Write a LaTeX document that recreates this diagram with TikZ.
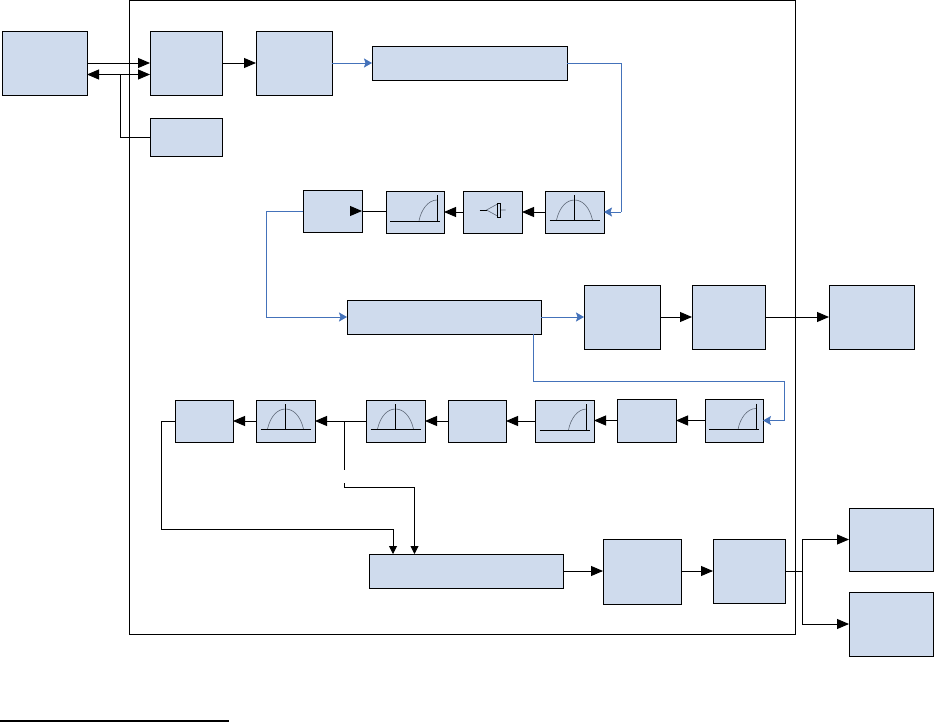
\documentclass[tikz,border=0pt]{standalone}
\usetikzlibrary{arrows.meta}
\definecolor{boxfill}{RGB}{207,219,237}
\definecolor{bluewire}{RGB}{68,114,186}
\definecolor{iconarc}{RGB}{95,105,120}
\tikzset{
 blk/.style={draw=black,fill=boxfill,line width=0.9pt,inner sep=0pt,outer sep=0pt},
 wire/.style={draw=black,line width=0.9pt},
 arr/.style={wire,-{Triangle[length=12pt,width=10pt]}},
 sarr/.style={wire,-{Triangle[length=8pt,width=8pt]}},
 barr/.style={line width=0.9pt,draw=bluewire,-{Stealth[length=8pt,width=9pt,inset=1.5pt]}},
 bwire/.style={line width=0.9pt,draw=bluewire},
 ibase/.style={draw=black,line width=0.8pt},
 iarc/.style={draw=iconarc,line width=0.6pt},
 pics/bell/.style={code={
   \draw[iarc] (-18,8) .. controls (-15,-5) and (-8,-12) .. (0,-12) .. controls (8,-12) and (15,-5) .. (18,8);
   \draw[ibase] (-25,8) -- (25,8) (0,-17) -- (0,8);}},
 pics/quart/.style={code={
   \draw[iarc] (4,9) .. controls (6,-2) and (13,-12) .. (22,-12);
   \draw[ibase] (-25,9) -- (25,9) (22,-17) -- (22,9);}},
 pics/amp/.style={code={
   \draw[iarc] (-6,-2) -- (5,-8) -- (5,4) -- cycle (8,-2) -- (13,-2);
   \draw[ibase] (-13,-2) -- (-6,-2);
   \draw[ibase,fill=boxfill] (4.5,-9) rectangle (7.5,5);}},
}
\newcommand{\bx}[5]{\node[blk,minimum width=\the\numexpr#4-#2\relax pt,minimum height=\the\numexpr#5-#3\relax pt] (#1) at ({(#2+#4)/2},{(#3+#5)/2}) {};}
\begin{document}
\begin{tikzpicture}[x=1pt,y=-1pt]
\useasboundingbox (0,0) rectangle (934,726);
\draw[wire] (129.5,0.5) rectangle (795.5,634.5);
\bx{src}{2}{31}{87}{95}
\bx{a}{150}{31}{222}{95}
\bx{b}{256}{31}{332}{95}
\bx{c}{372}{46}{567}{80}
\bx{d}{150}{118}{222}{156}
\bx{e}{303}{190}{362}{232}
\bx{f}{386}{191}{444}{233}
\bx{g}{463}{191}{522}{233}
\bx{h}{545}{191}{604}{233}
\bx{i}{347}{300}{541}{334}
\bx{j}{584}{285}{660}{349}
\bx{k}{692}{285}{765}{349}
\bx{l}{829}{285}{914}{349}
\bx{m}{175}{400}{233}{442}
\bx{n}{256}{400}{315}{442}
\bx{o}{366}{400}{425}{442}
\bx{p}{448}{400}{506}{442}
\bx{q}{535}{400}{594}{442}
\bx{r}{617}{399}{676}{442}
\bx{s}{705}{399}{763}{442}
\bx{t}{369}{554}{563}{588}
\bx{u}{603}{539}{681}{604}
\bx{v}{713}{539}{785}{603}
\bx{w}{849}{508}{933}{571}
\bx{x}{849}{592}{933}{656}
\pic at (h) {bell};
\pic at (g) {amp};
\pic at (f) {quart};
\pic at (s) {quart};
\pic at (q) {quart};
\pic at (o) {bell};
\pic at (n) {bell};
% named free points
\coordinate (srcL) at (87,74.5);
\coordinate (aL) at (150,74.5);
\coordinate (tapA) at (120,74.5);
\coordinate (cR) at (621,63);
\coordinate (hR) at (621,212);
\coordinate (eL) at (266,211);
\coordinate (iL) at (266,317);
\coordinate (iB) at (533.5,334);
\coordinate (iB2) at (533.5,381);
\coordinate (sR1) at (784,381);
\coordinate (sR2) at (784,420.5);
\coordinate (mL) at (161,421);
\coordinate (mB) at (161,529);
\coordinate (tT1) at (393,529);
\coordinate (tT1e) at (393,554);
\coordinate (tap1) at (344,421);
\coordinate (tap1e) at (344,470);
\coordinate (tap2) at (344,483);
\coordinate (tap3) at (344,487);
\coordinate (tT2) at (414.5,487);
\coordinate (tT2e) at (414.5,554);
\coordinate (vT) at (802,571);
\coordinate (vU) at (802,539.5);
\coordinate (vD) at (802,624);
\draw[arr] (src.east) -- (a.west);
\draw[wire,{Triangle[length=12pt,width=10pt]}-{Triangle[length=12pt,width=10pt]}] (srcL) -- (aL);
\draw[wire] (d.west) -- (tapA |- d.west) -- (tapA);
\draw[arr] (a.east) -- (b.west);
\draw[barr] (b.east) -- (c.west);
\draw[bwire] (c.east |- cR) -- (cR) -- (hR);
\draw[barr] (hR) -- (h.east |- hR);
\draw[arr] (h.west) -- (g.east);
\draw[arr] (g.west) -- (f.east);
\draw[wire] (f.west |- e.east) -- (e.east);
\draw[arr] ([xshift=-12pt]e.east) -- (e.east);
\draw[bwire] (e.west |- eL) -- (eL) -- (iL);
\draw[barr] (iL) -- (i.west);
\draw[barr] (i.east) -- (j.west);
\draw[arr] (j.east) -- (k.west);
\draw[arr] (k.east) -- (l.west);
\draw[bwire] (iB) -- (iB2) -- (sR1) -- (sR2);
\draw[barr] (sR2) -- (s.east |- sR2);
\draw[arr] (s.west |- 0,420.5) -- (r.east |- 0,420.5);
\draw[arr] (r.west |- 0,420.5) -- (q.east |- 0,420.5);
\draw[arr] (q.west |- 0,421) -- (p.east |- 0,421);
\draw[arr] (p.west |- 0,421) -- (o.east |- 0,421);
\draw[arr] (o.west |- 0,421) -- (n.east |- 0,421);
\draw[arr] (n.west |- 0,421) -- (m.east |- 0,421);
\draw[wire] (m.west |- mL) -- (mL) -- (mB) -- (tT1);
\draw[sarr] (tT1) -- (tT1e);
\draw[wire] (tap1) -- (tap1e);
\draw[wire] (tap2) -- (tap3) -- (tT2);
\draw[sarr] (tT2) -- (tT2e);
\draw[arr] (t.east) -- (u.west |- t.east);
\draw[arr] (u.east |- 0,571) -- (v.west |- 0,571);
\draw[wire] (v.east |- vT) -- (vT);
\draw[arr] (vT) -- (vU) -- (w.west |- vU);
\draw[arr] (vT) -- (vD) -- (x.west |- vD);
\coordinate (rl) at (0,721);
\coordinate (rr) at (229,721);
\draw[line width=1.2pt] (rl) -- (rr);
\end{tikzpicture}
\end{document}
